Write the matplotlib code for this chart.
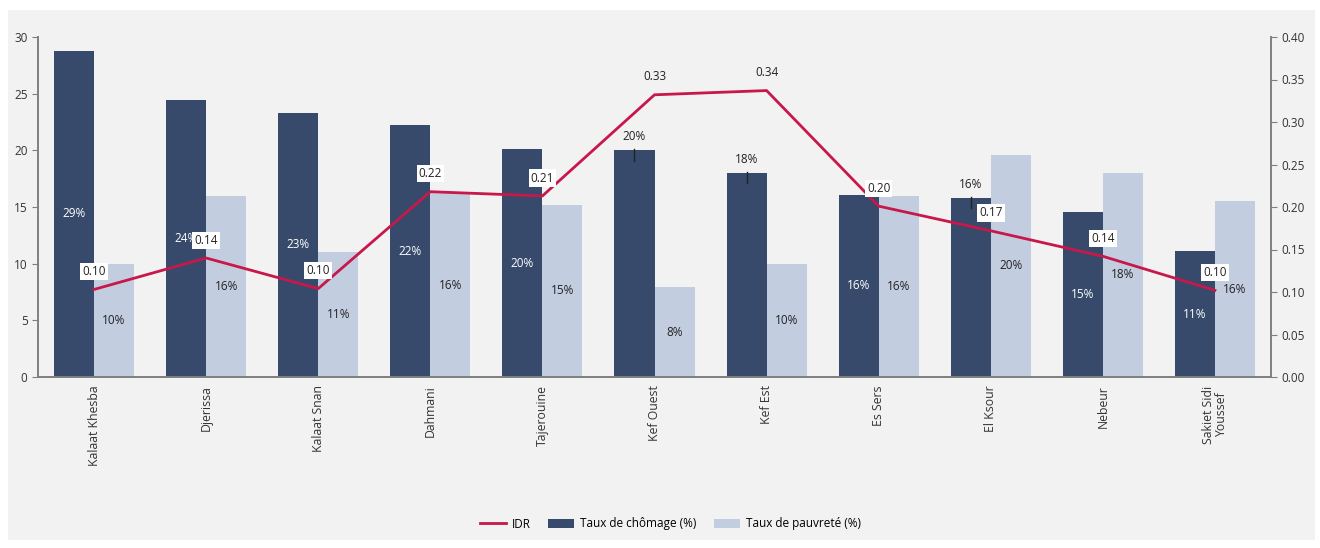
import numpy as np
import matplotlib
matplotlib.use('Agg')
from matplotlib import pyplot as plt
from matplotlib.patches import Rectangle

plt.rcParams['font.family'] = ['Open Sans', 'DejaVu Sans']

# Données
delegations = ['Kalaat Khesba', 'Djerissa', 'Kalaat Snan', 'Dahmani', 'Tajerouine',
               'Kef Ouest', 'Kef Est', 'Es Sers', 'El Ksour', 'Nebeur',
               'Sakiet Sidi\nYoussef']
chomage = [28.8, 24.4, 23.3, 22.2, 20.1, 20.0, 18.0, 16.1, 15.8, 14.6, 11.1]
pauvrete = [10.0, 16.0, 11.0, 16.2, 15.2, 7.9, 10.0, 16.0, 19.6, 18.0, 15.5]
idr = [0.103, 0.140, 0.104, 0.218, 0.213, 0.332, 0.337, 0.201, 0.172, 0.142, 0.102]
chomage_lbl = ['29%', '24%', '23%', '22%', '20%', '20%', '18%', '16%', '16%', '15%', '11%']
pauvrete_lbl = ['10%', '16%', '11%', '16%', '15%', '8%', '10%', '16%', '20%', '18%', '16%']
idr_lbl = ['0.10', '0.14', '0.10', '0.22', '0.21', '0.33', '0.34', '0.20', '0.17', '0.14', '0.10']

dark = '#374a6b'
light = '#c3cde0'
red = '#c8174a'
bg = '#f2f2f2'
axis_col = '#7f7f7f'

fig = plt.figure(figsize=(13.2, 5.48), dpi=100)
fig.patch.set_facecolor('white')
fig.patches.append(Rectangle((8 / 1320, 8 / 548), 1307 / 1320, 530 / 548,
                             transform=fig.transFigure, facecolor=bg,
                             edgecolor='none', zorder=-10))

ax = fig.add_axes([38 / 1320, 1 - 377 / 548, (1271 - 38) / 1320, 340 / 548])
ax.set_facecolor(bg)
ax2 = ax.twinx()

x = np.arange(len(delegations))
w = 0.357
ax.bar(x - w / 2, chomage, w, color=dark, label='Taux de chômage (%)', zorder=2)
ax.bar(x + w / 2, pauvrete, w, color=light, label='Taux de pauvreté (%)', zorder=2)

ax.set_xlim(-0.5, len(delegations) - 0.5)
ax.set_ylim(0, 30)
ax.set_yticks(range(0, 31, 5))
ax2.set_ylim(0, 0.40)
ax2.set_yticks(np.arange(0, 0.41, 0.05))
ax2.set_yticklabels(['%.2f' % v for v in np.arange(0, 0.41, 0.05)])

ax.set_xticks(x)
ax.set_xticklabels(delegations, rotation=90, fontsize=8.8, color='#333333',
                   linespacing=0.95)
ax.tick_params(axis='x', length=0, pad=6)
ax.tick_params(axis='y', labelsize=8.5, colors='#333333', length=4, direction='out')
ax2.tick_params(axis='y', labelsize=8.5, colors='#333333', length=4, direction='out')
for a in (ax, ax2):
    a.spines['top'].set_visible(False)
    for s in ('left', 'right', 'bottom'):
        a.spines[s].set_color(axis_col)
        a.spines[s].set_linewidth(1.2)
    a.tick_params(axis='y', color=axis_col)

# Étiquettes des barres
above = {5, 6, 8}
for i in range(len(delegations)):
    xc = x[i] - w / 2
    if i in above:
        ax.plot([xc, xc], [chomage[i] - 0.9, chomage[i] + 0.1], color='#222222',
                lw=1, zorder=4)
        ax.text(xc, chomage[i] + 1.2, chomage_lbl[i], ha='center', va='center',
                fontsize=8.5, color='#222222', zorder=5)
    else:
        ax.text(xc, chomage[i] / 2, chomage_lbl[i], ha='center', va='center',
                fontsize=8.5, color='white', zorder=5)
    ax.text(x[i] + w / 2, pauvrete[i] / 2, pauvrete_lbl[i], ha='center',
            va='center', fontsize=8.5, color='#222222', zorder=5)

ax2.plot(x, idr, color=red, lw=2, label='IDR', zorder=3)
for i in range(len(delegations)):
    box = None if i in (5, 6) else dict(facecolor='white', edgecolor='none', pad=1.5)
    ax2.text(x[i], idr[i] + 0.021, idr_lbl[i], ha='center', va='center',
             fontsize=8.5, color='#222222', bbox=box, zorder=6)

h1, l1 = ax.get_legend_handles_labels()
h2, l2 = ax2.get_legend_handles_labels()
fig.legend(h2 + h1, l2 + l1, loc='center', bbox_to_anchor=(0.508, 1 - 524 / 548),
           ncol=3, frameon=False, fontsize=8.5, handlelength=2.2,
           columnspacing=1.5, handletextpad=0.5)

fig.savefig('out.png', dpi=100, facecolor=fig.get_facecolor())
